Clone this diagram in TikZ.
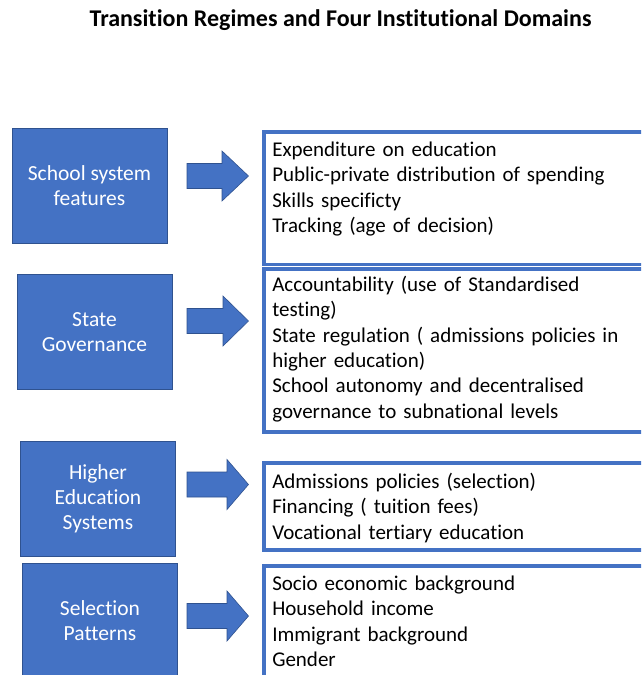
\documentclass[tikz,border=0pt]{standalone}
\usepackage{fontspec}
\setmainfont{Carlito}[Ligatures={NoCommon}]
\usetikzlibrary{calc}
\definecolor{officeblue}{HTML}{4472C4}
\definecolor{officeedge}{HTML}{2F528F}
\tikzset{
  domainbox/.style={draw=officeedge, line width=0.8pt, fill=officeblue, text=white, align=center,
    minimum width=155pt, minimum height=115pt, inner sep=0pt, font=\fontsize{21.5}{25.2}\selectfont},
  listbox/.style={draw=officeblue, line width=3.5pt, fill=white, anchor=north west, align=left,
    text width=380pt, inner xsep=8.5pt, inner ysep=0pt, font=\fontsize{21}{25.4}\selectfont},
  arrowshape/.style={draw=officeedge, line width=0.6pt, fill=officeblue, line join=miter}
}
% #1 = middle of the shaft, #2 = start of the head
\def\blockarrow(#1:#2){\draw[arrowshape] (187,{#1-12.5}) -- (#2,{#1-12.5}) -- (#2,{#1-25})
  -- (248.5,#1) -- (#2,{#1+25}) -- (#2,{#1+12.5}) -- (187,{#1+12.5}) -- cycle;}
\begin{document}
\begin{tikzpicture}[x=1pt,y=-1pt]
	%%%%% START %%%%%
	\useasboundingbox (0,0) rectangle (641,675);
	\clip (0,0) rectangle (641,675);
	
	\node[font=\bfseries\fontsize{24}{28}\selectfont] (title) at (340.5,20.5) {Transition Regimes and Four Institutional Domains};
	
	% left hand domains
	\node[domainbox] (school) at (89.5,185.5) {School system\\features};
	\node[domainbox] (state) at (94.5,332) {State\\Governance};
	\node[domainbox] (higher) at (98,498.5) {Higher\\Education\\Systems};
	\node[domainbox] (select) at (100,620.5) {Selection\\Patterns};
	
	% block arrows
	\blockarrow(176:222);
	\blockarrow(321:223);
	\blockarrow(484.5:227);
	\blockarrow(616:227);
	
	% right hand lists
	\node[listbox, text height=24.5pt, text depth=108pt] (schoollist) at (262,130)
	  {Expenditure on education\\Public-private distribution of spending\\Skills specificty\\Tracking (age of decision)};
	\node[listbox, text height=22.5pt, text depth=140.5pt] (statelist) at (262,267)
	  {Accountability (use of Standardised\\testing)\\State regulation ( admissions policies in\\higher education)\\School autonomy and decentralised\\governance to subnational levels};
	\node[listbox, text height=25.5pt, text depth=61.5pt] (higherlist) at (262,461)
	  {Admissions policies (selection)\\Financing ( tuition fees)\\Vocational tertiary education};
	\node[listbox, text height=24.5pt, text depth=120pt] (selectlist) at (262,564)
	  {Socio economic background\\Household income\\Immigrant background\\Gender};
	
	%%%%% END %%%%%
\end{tikzpicture}
\end{document}
